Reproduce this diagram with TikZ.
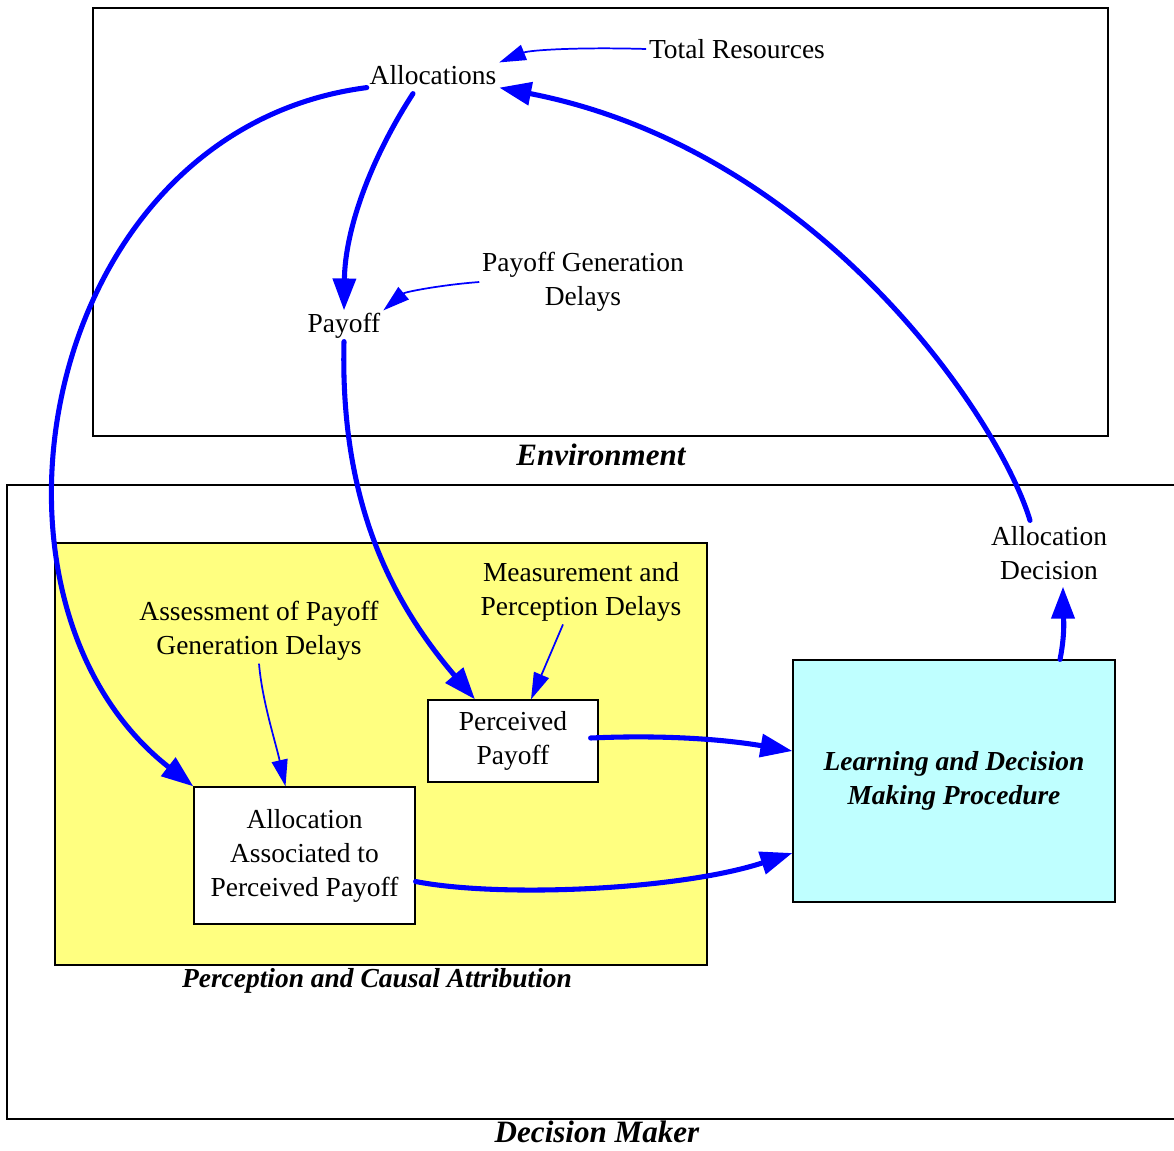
\documentclass[tikz,border=0pt]{standalone}
\usepackage{fontspec}
\setmainfont{Liberation Serif}
\usepackage{tikz}
\usetikzlibrary{positioning,arrows.meta,calc}
\definecolor{paleyellow}{RGB}{255,255,128}
\definecolor{palecyan}{RGB}{191,255,255}

\begin{document}
\begin{tikzpicture}[x=0.75pt, y=-0.75pt,
    txt/.style={font=\fontsize{20.6}{25.5}\selectfont, align=center, inner sep=2pt},
    box/.style={txt, draw, line width=0.9pt, fill=white},
    area/.style={draw, line width=0.9pt},
    title/.style={font=\fontsize{23.3}{28}\selectfont\bfseries\itshape, inner sep=0pt},
    subtitle/.style={font=\fontsize{20.6}{25.5}\selectfont\bfseries\itshape, align=center},
    flow/.style={blue, line width=3.8pt, line cap=round, -{Triangle[length=24pt,width=17pt]}},
    link/.style={blue, line width=1.3pt, -{Triangle[length=20pt,width=12pt]}}
  ]
    \useasboundingbox (0,0) rectangle (1174,1150);

    % the two worlds
    \node[area, minimum width=761.25pt, minimum height=321pt] (env) at (600.5,222) {};
    \node[title] (envlbl) at (601,455) {Environment};
    \draw[line width=0.9pt] (1180,485) -- (7,485) -- (7,1119) -- (1180,1119);
    \node[title] (dmlbl) at (597,1132) {Decision Maker};
    \node[area, fill=paleyellow, minimum width=489pt, minimum height=316.5pt] (pca) at (381,754) {};
    \node[subtitle] (pcalbl) at (377,981) {Perception and Causal Attribution};

    % environment
    \node[txt] (alloc) at (433,75) {Allocations};
    \node[txt] (total) at (737,49) {Total Resources};
    \node[txt] (payoff) at (344,326) {Payoff};
    \node[txt] (pgd) at (583,282) {Payoff Generation\\Delays};

    % decision maker
    \node[txt] (mpd) at (581,592) {Measurement and\\Perception Delays};
    \node[txt] (apg) at (259,631) {Assessment of Payoff\\Generation Delays};
    \node[box, minimum width=127.5pt, minimum height=61.5pt] (perc) at (513,741) {Perceived\\Payoff};
    \node[box, minimum width=165.75pt, minimum height=102.75pt] (assoc) at (304.5,855.5) {Allocation\\Associated to\\Perceived Payoff};
    \node[box, fill=palecyan, minimum width=241.5pt, minimum height=181.5pt,
          font=\fontsize{20.6}{25.5}\selectfont\bfseries\itshape] (learn) at (954,781) {Learning and Decision\\Making Procedure};
    \node[txt] (dec) at (1049,553) {Allocation\\Decision};

    % thin links
    \draw[link] (total.west) .. controls (580,47) and (530,50) .. (alloc.north east);
    \draw[link] (pgd.west) .. controls (440,285) and (405,292) .. (payoff.north east);
    \draw[link] ($(mpd.south)+(-18,0)$) -- ($(perc.north)+(18,0)$);
    \draw[link] (apg.south) .. controls (262,700) and (275,740) .. ($(assoc.north)+(-19,0)$);

    % thick flows
    \draw[flow] ($(alloc.south)+(-20,6)$) .. controls (370,160) and (345,230) .. (payoff.north);
    \draw[flow] (payoff.south) .. controls (340,500) and (390,600) .. ($(perc.north)+(-38,0)$);
    \draw[flow] (alloc.south west) .. controls (40,130) and (-45,600) .. (assoc.north west);
    \draw[flow] ($(perc.east)+(-8,-3)$) .. controls (680,734) and (740,742) .. ($(learn.west)+(0,-30)$);
    \draw[flow] ($(assoc.east)+(0,26)$) .. controls (500,898) and (680,890) .. ($(learn.west)+(0,72)$);
    \draw[flow] ($(learn.north)+(106,0)$) .. controls (1066,630) and (1063,610) .. ($(dec.south)+(14,4)$);
    \draw[flow] ($(dec.north)+(-19,-3)$) .. controls (1000,420) and (820,150) .. (alloc.south east);
\end{tikzpicture}
\end{document}
